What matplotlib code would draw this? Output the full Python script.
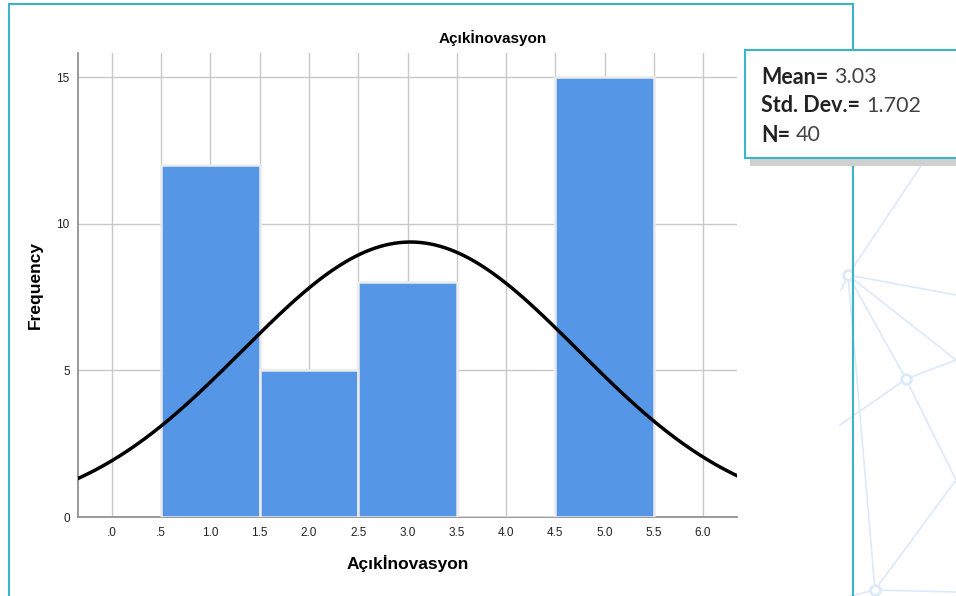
import numpy as np
import matplotlib.pyplot as plt
from matplotlib.lines import Line2D
from matplotlib.patches import Rectangle

### Data
bin_edges = [0.5, 1.5, 2.5, 3.5, 4.5, 5.5]
counts = [12, 5, 8, 0, 15]
mean = 3.03
std_dev = 1.702
n = 40
x_ticks = [0.0, 0.5, 1.0, 1.5, 2.0, 2.5, 3.0, 3.5, 4.0, 4.5, 5.0, 5.5, 6.0]
x_tick_labels = ['.0', '.5', '1.0', '1.5', '2.0', '2.5', '3.0', '3.5', '4.0', '4.5', '5.0', '5.5', '6.0']
y_ticks = [0, 5, 10, 15]
var_name = 'Açıkİnovasyon'

plt.rcParams['font.family'] = ['Liberation Sans', 'DejaVu Sans']

W, H = 956, 596
fig = plt.figure(figsize=(W / 100, H / 100), dpi=100)
fig.patch.set_facecolor('white')

def px(x, y):
    # pixel coords (top-left origin) -> figure fraction
    return x / W, 1 - y / H

### Faint network decoration on the right
net_color = '#dce9fb'
nodes = {'a': (848, 275), 'b': (906, 379), 'c': (875, 590), 'd': (956, 360), 'e': (956, 480)}
edges = [((925, 160), 'a'), ('a', (956, 295)), ('a', 'd'), ('a', 'b'), ('b', 'd'),
         ('b', (840, 425)), ('b', 'e'), ('e', 'c'), ('a', 'c'), ('c', (956, 592)),
         ('c', (850, 596)), ('a', (841, 290))]
for p, q in edges:
    p = nodes[p] if isinstance(p, str) else p
    q = nodes[q] if isinstance(q, str) else q
    (x0, y0), (x1, y1) = px(*p), px(*q)
    fig.add_artist(Line2D([x0, x1], [y0, y1], color=net_color, lw=1.2, zorder=0))
for k in ['a', 'b', 'c']:
    x0, y0 = px(*nodes[k])
    fig.add_artist(Line2D([x0], [y0], marker='o', ms=7, mfc='white', mec=net_color, mew=2, zorder=0))

### Teal frame (bottom edge runs off the figure)
fx0, fy0 = px(9, 610)
fx1, fy1 = px(853, 4)
fig.add_artist(Rectangle((fx0, fy0), fx1 - fx0, fy1 - fy0, transform=fig.transFigure,
                         fill=False, edgecolor='#3bb4c8', lw=1.5, zorder=1))

### Histogram axes
l, b = px(78, 517)
r, t = px(737, 53)
ax = fig.add_axes([l, b, r - l, t - b])
ax.set_xlim(-0.345, 6.345)
ax.set_ylim(0, 15.82)

widths = np.diff(bin_edges)
ax.bar(bin_edges[:-1], counts, width=widths, align='edge', color='#5596e6',
       edgecolor='#ececec', linewidth=1.8, zorder=3)

xs = np.linspace(-0.345, 6.345, 400)
pdf = n * 1.0 * np.exp(-0.5 * ((xs - mean) / std_dev) ** 2) / (std_dev * np.sqrt(2 * np.pi))
ax.plot(xs, pdf, color='black', lw=2.5, zorder=4)

ax.set_xticks(x_ticks)
ax.set_xticklabels(x_tick_labels)
ax.set_yticks(y_ticks)
ax.grid(True, color='#c8c8c8', lw=1, zorder=0)
ax.set_axisbelow(True)
ax.tick_params(length=0, labelsize=8.5, colors='#222222', pad=7)
ax.tick_params(axis='y', pad=6)
for s in ['top', 'right']:
    ax.spines[s].set_visible(False)
for s in ['left', 'bottom']:
    ax.spines[s].set_color('#888888')
    ax.spines[s].set_linewidth(1.2)

ax.set_xlabel(var_name, fontsize=12.5, fontweight='bold', labelpad=12)
ax.set_ylabel('Frequency', fontsize=12.5, fontweight='bold', labelpad=10)
tx, ty = px(493, 38)
fig.text(tx, ty, var_name, fontsize=11, fontweight='bold', ha='center', va='center')

### Stats box
sx0, sy0 = px(745, 158)
sx1, sy1 = px(960, 50)
shx, shy = px(750, 166)
fig.add_artist(Rectangle((shx, shy), sx1 - shx, sy0 - shy, transform=fig.transFigure,
                         facecolor='#d0d0d0', edgecolor='none', zorder=5))
fig.add_artist(Rectangle((sx0, sy0), sx1 - sx0, sy1 - sy0, transform=fig.transFigure,
                         facecolor='white', edgecolor='#3bb4c8', lw=1.5, zorder=6))
stats = [('Mean=', f'{mean:.2f}'), ('Std. Dev.=', f'{std_dev:.3f}'), ('N=', str(n))]
renderer = fig.canvas.get_renderer()
for i, (lab, val) in enumerate(stats):
    x, y = px(761, 77 + i * 29)
    t1 = fig.text(x, y, lab, fontsize=15.5, fontweight='bold', family='Lato', color='#222222',
                  va='center', zorder=7)
    bb = t1.get_window_extent(renderer)
    fig.text(x + (bb.width + 6) / W, y, val, fontsize=15.5, fontweight='normal', family='Lato',
             color='#444444', va='center', zorder=7)

fig.savefig('out.png', dpi=100)
